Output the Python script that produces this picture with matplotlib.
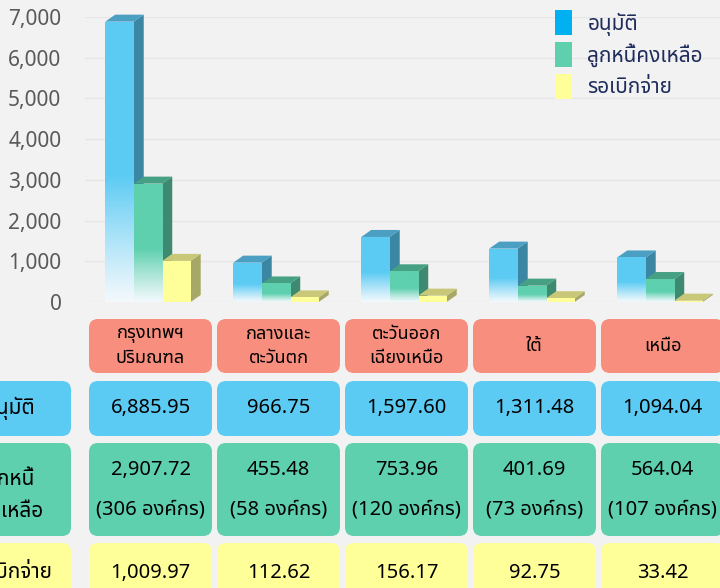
import matplotlib.pyplot as plt
import numpy as np
from matplotlib import font_manager
from matplotlib.ft2font import FT2Font
from matplotlib.patches import Polygon, Rectangle, FancyBboxPatch, Patch

# data
regions = ['กรุงเทพฯ\nปริมณฑล', 'กลางและ\nตะวันตก', 'ตะวันออก\nเฉียงเหนือ', 'ใต้', 'เหนือ']
approved = [6885.95, 966.75, 1597.60, 1311.48, 1094.04]
remaining = [2907.72, 455.48, 753.96, 401.69, 564.04]
remaining_orgs = [306, 58, 120, 73, 107]
pending = [1009.97, 112.62, 156.17, 92.75, 33.42]
series_names = ['อนุมัติ', 'ลูกหนี้คงเหลือ', 'รอเบิกจ่าย']
row_labels = ['อนุมัติ', 'ลูกหนี้\nคงเหลือ', 'รอเบิกจ่าย']
yticks = [0, 1000, 2000, 3000, 4000, 5000, 6000, 7000]


def find_thai_font():
    found = []
    for f in font_manager.fontManager.ttflist:
        try:
            if 0x0E01 in FT2Font(f.fname).get_charmap():
                found.append(f.name)
        except Exception:
            pass
    for pref in ['Tahoma', 'Leelawadee UI', 'Leelawadee', 'Noto Sans Thai', 'Noto Sans Thai UI',
                 'Loma', 'Garuda', 'Sarabun']:
        if pref in found:
            return pref
    return found[0] if found else None


thai = find_thai_font()
plt.rcParams['font.family'] = ([thai] if thai else []) + ['DejaVu Sans']

BG = '#f2f2f2'
front_cols = ['#5ccbf3', '#5ed0ae', '#ffff99']
side_cols = ['#3b86a3', '#3e8a70', '#a8a866']
top_cols = ['#4a9fc2', '#46a083', '#c8c878']
fade = [True, True, False]
series = [approved, remaining, pending]

fig = plt.figure(figsize=(7.2, 5.88), dpi=100)
fig.patch.set_facecolor(BG)

ax = fig.add_axes([85 / 720, 1 - 302 / 588, 635 / 720, 285 / 588])
ax.set_facecolor('none')
ymax = 7000
ax.set_xlim(-0.492, 4.469)
ax.set_ylim(0, ymax)
ax.set_yticks(yticks)
ax.set_yticklabels([f'{v:,}' for v in yticks])
ax.set_xticks([])
ax.tick_params(axis='y', length=0, labelsize=15, labelcolor='#595959', pad=17)
for sp in ax.spines.values():
    sp.set_visible(False)
ax.grid(axis='y', color='#e6e6e6', linewidth=1)
ax.set_axisbelow(True)

w = 28.5 / 128
dx = 10 / 128
dy = 7 * ymax / 285


def gradient_img(rgb):
    n = 200
    y = np.linspace(0, 1, n)[:, None]
    t = np.clip(y / 0.45, 0, 1) ** 1.1
    base = np.array([0.95, 0.975, 0.99])
    col = base + (np.array(rgb) - base) * t
    return np.repeat(col[:, None, :], 2, axis=1).reshape(n, 2, 3)


for i in range(len(regions)):
    for k, vals in enumerate(series):
        h = vals[i]
        x0 = i - 1.5 * w + k * w
        x1 = x0 + w
        side = Polygon([(x1, 0), (x1 + dx, dy), (x1 + dx, h + dy), (x1, h)],
                       closed=True, facecolor=side_cols[k], edgecolor='none', zorder=3, clip_on=False)
        top = Polygon([(x0, h), (x0 + dx, h + dy), (x1 + dx, h + dy), (x1, h)],
                      closed=True, facecolor=top_cols[k], edgecolor='none', zorder=3, clip_on=False)
        ax.add_patch(side)
        ax.add_patch(top)
        rect = Rectangle((x0, 0), w, h, facecolor=front_cols[k], edgecolor='none', zorder=4)
        ax.add_patch(rect)
        if fade[k]:
            rgb = plt.matplotlib.colors.to_rgb(front_cols[k])
            im = ax.imshow(gradient_img(rgb), extent=(x0, x1, 0, h), origin='lower',
                           aspect='auto', zorder=5, interpolation='bilinear')
            im.set_clip_path(rect)

ax.set_xlim(-0.492, 4.469)
ax.set_ylim(0, ymax)

handles = [Patch(facecolor='#00b0f0'), Patch(facecolor='#5ed0ae'), Patch(facecolor='#ffff99')]
ax.legend(handles, series_names, loc='upper left', bbox_to_anchor=(555 / 720, 1 - 10 / 588),
          bbox_transform=fig.transFigure, frameon=False, fontsize=15, handlelength=0.8,
          handleheight=1.5, labelspacing=0.3, handletextpad=0.75, labelcolor='#1f2d5c',
          borderpad=0, borderaxespad=0)

# table underneath, laid out in pixel coordinates
ov = fig.add_axes([0, 0, 1, 1], zorder=-1)
ov.set_xlim(0, 720)
ov.set_ylim(588, 0)
ov.axis('off')
ov.patch.set_alpha(0)

col_w = 123
col_x = [150.5 + 128 * i for i in range(len(regions))]
rows = [(319, 373), (381, 436), (443, 536), (543, 600)]
row_cols = ['#f88e7e', '#5ccbf3', '#5ed0ae', '#ffff99']


def box(x0, y0, x1, y1, color):
    ov.add_patch(FancyBboxPatch((x0, y0), x1 - x0, y1 - y0,
                                boxstyle='round,pad=0,rounding_size=9',
                                facecolor=color, edgecolor='none'))


label_y = [408, 494, 573]
for r, (y0, y1) in enumerate(rows):
    for cx in col_x:
        box(cx - col_w / 2, y0, cx + col_w / 2, y1, row_cols[r])
    if r > 0:
        box(-60, y0, 71, y1, row_cols[r])
        ov.text(10, label_y[r - 1], row_labels[r - 1], ha='center', va='center',
                fontsize=15, color='black', linespacing=1.7)

fs = 14.5
for i, cx in enumerate(col_x):
    ov.text(cx, 346, regions[i], ha='center', va='center', fontsize=13, linespacing=1.4)
    ov.text(cx, 408, f'{approved[i]:,.2f}', ha='center', va='center', fontsize=fs)
    ov.text(cx, 470, f'{remaining[i]:,.2f}', ha='center', va='center', fontsize=fs)
    ov.text(cx, 509, f'({remaining_orgs[i]} องค์กร)', ha='center', va='center', fontsize=fs)
    ov.text(cx, 573, f'{pending[i]:,.2f}', ha='center', va='center', fontsize=fs)

fig.savefig('out.png', dpi=100, facecolor=BG)
